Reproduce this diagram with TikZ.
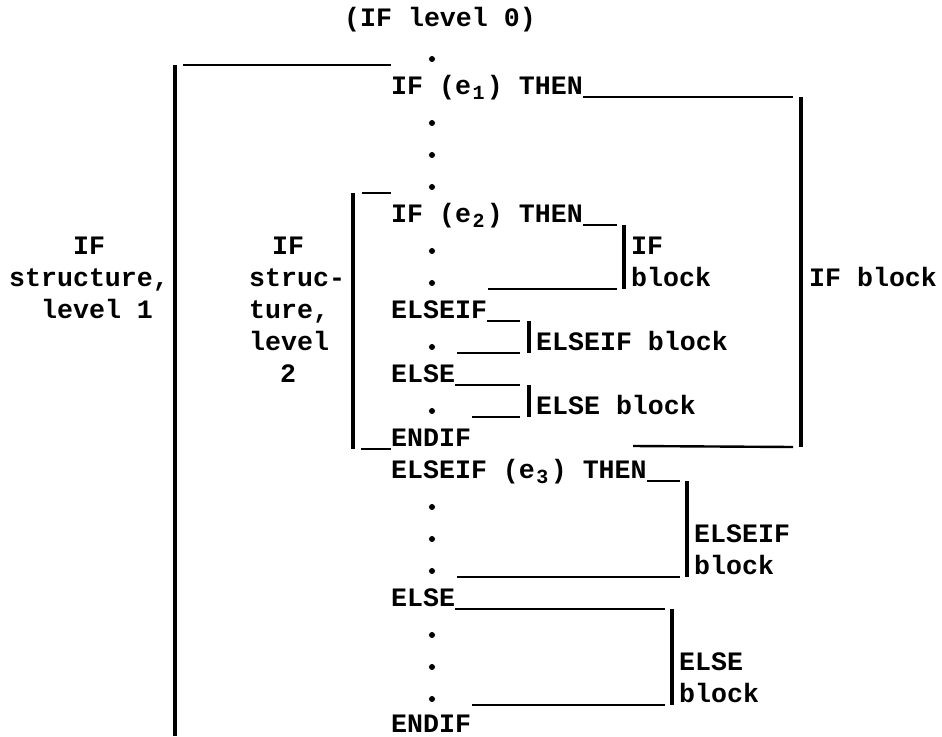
\documentclass[tikz,border=0pt]{standalone}
\usepackage{fontspec}
\setmonofont{Liberation Mono}
\usetikzlibrary{calc}

\newcommand{\codefont}{\fontsize{26.6}{32}\selectfont\ttfamily\bfseries}
\newcommand{\subdig}[1]{\rlap{\hspace{1.5pt}\raisebox{-5pt}{\fontsize{20}{20}\selectfont #1}}\phantom{0}}

\tikzset{
  codeline/.style={anchor=base west, inner sep=0pt, font=\codefont},
  dotmark/.style={circle, fill=black, inner sep=0pt, minimum size=6pt},
  vrule/.style={line width=3.3pt, draw=black},
  hrule/.style={line width=2.4pt, draw=black},
}

\begin{document}
\begin{tikzpicture}[x=1pt, y=-1pt]
\useasboundingbox (0,0) rectangle (942,736);

% code column
\node [codeline] (lvl0) at (344,26) {(IF level 0)};
\foreach \r in {0,2,3,4,6,7,9,11,14,15,16,18,19,20}
  \node [dotmark] (d\r) at (432,{59+32*\r}) {};
\node [codeline] (if1)    at (391,94)  {IF (e\subdig{1}) THEN};
\node [codeline] (if2)    at (391,222) {IF (e\subdig{2}) THEN};
\node [codeline] (elif2)  at (391,318) {ELSEIF};
\node [codeline] (else2)  at (391,382) {ELSE};
\node [codeline] (endif2) at (391,446) {ENDIF};
\node [codeline] (elif1)  at (391,478) {ELSEIF (e\subdig{3}) THEN};
\node [codeline] (else1)  at (391,606) {ELSE};
\node [codeline] (endif1) at (391,732) {ENDIF};

% bracket ends
\coordinate (L1t) at (175,65);  \coordinate (L1b) at (175,736);
\coordinate (L2t) at (353,193); \coordinate (L2b) at (353,449);
\coordinate (B1t) at (801,97);  \coordinate (B1b) at (801,447);
\coordinate (B2t) at (624,225); \coordinate (B2b) at (624,289);
\coordinate (B3t) at (529,321); \coordinate (B3b) at (529,353);
\coordinate (B4t) at (529,385); \coordinate (B4b) at (529,417);
\coordinate (B5t) at (687,481); \coordinate (B5b) at (687,577);
\coordinate (B6t) at (672,609); \coordinate (B6b) at (672,705);

\foreach \blk in {L1,L2,B1,B2,B3,B4,B5,B6}
  \draw [vrule] (\blk t) -- (\blk b);

% level 1 structure
\draw [hrule] ([xshift=8pt]L1t) -- (L1t -| if1.west);
\draw [hrule] ([yshift=-3pt]if1.base east) -- ([xshift=-8pt]B1t);
\draw [hrule] (633,446) -- ([xshift=-8pt]B1b);
\draw [hrule] ([yshift=-3pt]elif1.base east) -- ([xshift=-7pt]B5t);
\draw [hrule] (457,577) -- ([xshift=-7pt]B5b);
\draw [hrule] ([yshift=-3pt]else1.base east) -- ([xshift=-7pt]B6t);
\draw [hrule] (472,705) -- ([xshift=-7pt]B6b);

% level 2 structure
\draw [hrule] ([xshift=9pt]L2t) -- (L2t -| if2.west);
\draw [hrule] ([yshift=-3pt]if2.base east) -- ([xshift=-7pt]B2t);
\draw [hrule] (488,289) -- ([xshift=-7pt]B2b);
\draw [hrule] ([yshift=-3pt]elif2.base east) -- ([xshift=-9pt]B3t);
\draw [hrule] (457,353) -- ([xshift=-9pt]B3b);
\draw [hrule] ([yshift=-3pt]else2.base east) -- ([xshift=-9pt]B4t);
\draw [hrule] (472,417) -- ([xshift=-9pt]B4b);
\draw [hrule] ([xshift=8pt]L2b) -- (L2b -| endif2.west);

% block labels
\node [codeline] (ifb1)    at (809,286) {IF block};
\node [codeline] (ifb2a)   at (631,254) {IF};
\node [codeline] (ifb2b)   at (631,286) {block};
\node [codeline] (elifb2)  at (536,350) {ELSEIF block};
\node [codeline] (elseb2)  at (536,414) {ELSE block};
\node [codeline] (elifb1a) at (694,542) {ELSEIF};
\node [codeline] (elifb1b) at (694,574) {block};
\node [codeline] (elseb1a) at (679,670) {ELSE};
\node [codeline] (elseb1b) at (679,702) {block};

% structure labels
\node [codeline] (st1a) at (73,254)  {IF};
\node [codeline] (st1b) at (9,286)   {structure,};
\node [codeline] (st1c) at (41,318)  {level 1};
\node [codeline] (st2a) at (272,254) {IF};
\node [codeline] (st2b) at (249,286) {struc-};
\node [codeline] (st2c) at (249,318) {ture,};
\node [codeline] (st2d) at (249,350) {level};
\node [codeline] (st2e) at (280,382) {2};

\end{tikzpicture}
\end{document}
